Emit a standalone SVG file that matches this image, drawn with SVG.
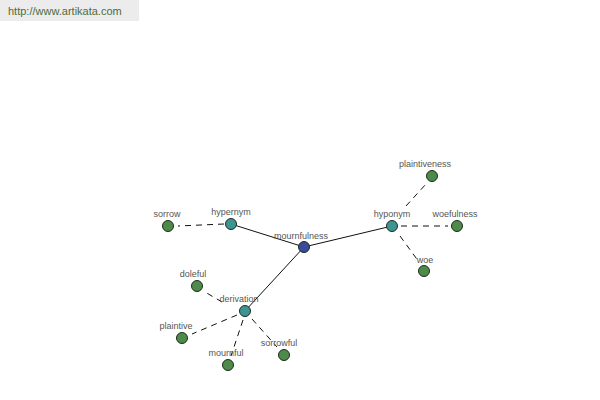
<svg xmlns="http://www.w3.org/2000/svg" width="600" height="400" viewBox="0 0 600 400">
<style>
.lbl{font-family:"Liberation Sans",Arial,sans-serif;font-size:9px;fill:#555;text-anchor:middle}
.n{stroke:#1e2a1e;stroke-width:1}
.leaf{fill:#4e8a4a}
.mid{fill:#3c9493}
.root{fill:#3a4a9c}
.solid{stroke:#111;stroke-width:1;fill:none}
.dash{stroke:#111;stroke-width:1;fill:none;stroke-dasharray:6,5}
</style>
<rect x="0" y="0" width="139" height="21" fill="#ececec"/>
<text x="8" y="15" font-family="Liberation Sans,Arial,sans-serif" font-size="11" fill="#4d6b3f">http://www.artikata.com</text>
<g id="connectors">
<line class="solid" x1="304" y1="247" x2="231" y2="224"/>
<line class="solid" x1="304" y1="247" x2="392" y2="226"/>
<line class="solid" x1="304" y1="247" x2="245" y2="311"/>
<line class="dash" x1="224" y1="224" x2="178" y2="226"/>
<line class="dash" x1="406" y1="206" x2="426" y2="184"/>
<line class="dash" x1="401" y1="226" x2="448" y2="226"/>
<line class="dash" x1="400" y1="236" x2="419" y2="262"/>
<line class="dash" x1="222" y1="302" x2="205" y2="292"/>
<line class="dash" x1="237" y1="315" x2="192" y2="334"/>
<line class="dash" x1="243" y1="320" x2="231" y2="356"/>
<line class="dash" x1="252" y1="319" x2="277" y2="347"/>
</g>
<g id="mournfulness"><circle class="n root" cx="304" cy="247" r="5.5"/><text class="lbl" x="301" y="239">mournfulness</text></g>
<g id="hypernym"><circle class="n mid" cx="231" cy="224" r="5.5"/><text class="lbl" x="231" y="215">hypernym</text></g>
<g id="hyponym"><circle class="n mid" cx="392" cy="226" r="5.5"/><text class="lbl" x="392" y="217">hyponym</text></g>
<g id="derivation"><circle class="n mid" cx="245" cy="311" r="5.5"/><text class="lbl" x="239" y="302">derivation</text></g>
<g id="sorrow"><circle class="n leaf" cx="168" cy="226" r="5.5"/><text class="lbl" x="167" y="217">sorrow</text></g>
<g id="plaintiveness"><circle class="n leaf" cx="432" cy="176" r="5.5"/><text class="lbl" x="425" y="167">plaintiveness</text></g>
<g id="woefulness"><circle class="n leaf" cx="457" cy="226" r="5.5"/><text class="lbl" x="455" y="217">woefulness</text></g>
<g id="woe"><circle class="n leaf" cx="424" cy="271" r="5.5"/><text class="lbl" x="425" y="263">woe</text></g>
<g id="doleful"><circle class="n leaf" cx="197" cy="286" r="5.5"/><text class="lbl" x="193" y="277">doleful</text></g>
<g id="plaintive"><circle class="n leaf" cx="182" cy="338" r="5.5"/><text class="lbl" x="176" y="329">plaintive</text></g>
<g id="mournful"><circle class="n leaf" cx="228" cy="365" r="5.5"/><text class="lbl" x="226" y="356">mournful</text></g>
<g id="sorrowful"><circle class="n leaf" cx="284" cy="355" r="5.5"/><text class="lbl" x="279" y="346">sorrowful</text></g>
</svg>
